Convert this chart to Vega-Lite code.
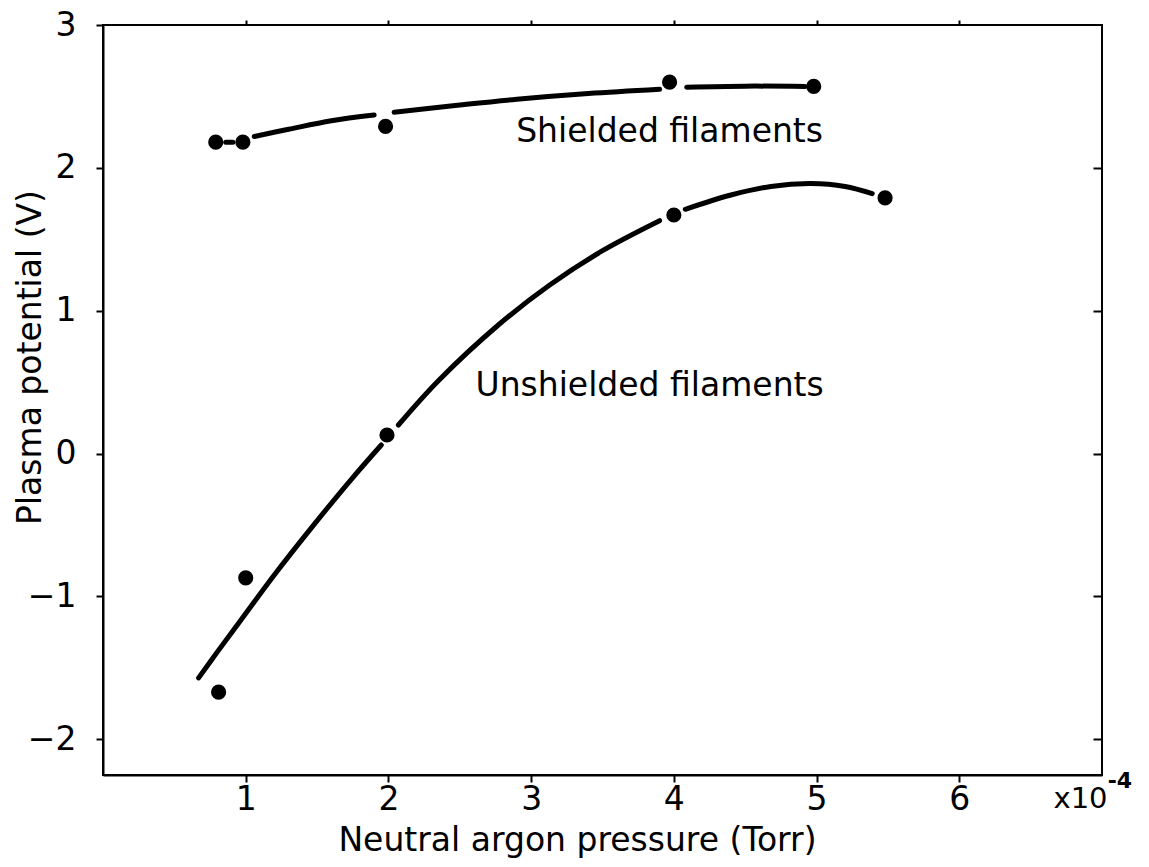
{
  "$schema": "https://vega.github.io/schema/vega-lite/v6.json",
  "autosize": {"type": "none"},
  "width": 999,
  "height": 750,
  "padding": {"left": 103, "top": 25, "right": 47, "bottom": 92},
  "background": "white",
  "config": {
    "view": {"stroke": "black", "strokeWidth": 2},
    "axis": {
      "grid": false,
      "domainColor": "black",
      "domainWidth": 2,
      "tickColor": "black",
      "tickWidth": 2,
      "tickSize": 7,
      "labelFont": "DejaVu Sans",
      "labelColor": "black",
      "labelFontSize": 33,
      "titleFont": "DejaVu Sans",
      "titleColor": "black",
      "titleFontSize": 33,
      "titleFontWeight": "normal"
    },
    "text": {"font": "DejaVu Sans", "color": "black"}
  },
  "datasets": {
    "curves": [
      {"series": "Shielded filaments", "seg": "s0", "p": 0.86, "v": 2.18},
      {"series": "Shielded filaments", "seg": "s0", "p": 0.91, "v": 2.18},
      {"series": "Shielded filaments", "seg": "s1", "p": 1.06, "v": 2.22},
      {"series": "Shielded filaments", "seg": "s1", "p": 1.3, "v": 2.27},
      {"series": "Shielded filaments", "seg": "s1", "p": 1.6, "v": 2.33},
      {"series": "Shielded filaments", "seg": "s1", "p": 1.9, "v": 2.37},
      {"series": "Shielded filaments", "seg": "s2", "p": 2.04, "v": 2.39},
      {"series": "Shielded filaments", "seg": "s2", "p": 2.5, "v": 2.44},
      {"series": "Shielded filaments", "seg": "s2", "p": 2.9, "v": 2.48},
      {"series": "Shielded filaments", "seg": "s2", "p": 3.4, "v": 2.52},
      {"series": "Shielded filaments", "seg": "s2", "p": 3.9, "v": 2.55},
      {"series": "Shielded filaments", "seg": "s3", "p": 4.09, "v": 2.565},
      {"series": "Shielded filaments", "seg": "s3", "p": 4.5, "v": 2.572},
      {"series": "Shielded filaments", "seg": "s3", "p": 4.92, "v": 2.57},
      {"series": "Unshielded filaments", "seg": "u0", "p": 0.67, "v": -1.57},
      {"series": "Unshielded filaments", "seg": "u0", "p": 0.8, "v": -1.39},
      {"series": "Unshielded filaments", "seg": "u0", "p": 1.0, "v": -1.12},
      {"series": "Unshielded filaments", "seg": "u0", "p": 1.2, "v": -0.85},
      {"series": "Unshielded filaments", "seg": "u0", "p": 1.46, "v": -0.52},
      {"series": "Unshielded filaments", "seg": "u0", "p": 1.74, "v": -0.18},
      {"series": "Unshielded filaments", "seg": "u0", "p": 1.95, "v": 0.06},
      {"series": "Unshielded filaments", "seg": "u1", "p": 2.07, "v": 0.2},
      {"series": "Unshielded filaments", "seg": "u1", "p": 2.35, "v": 0.51},
      {"series": "Unshielded filaments", "seg": "u1", "p": 2.77, "v": 0.9},
      {"series": "Unshielded filaments", "seg": "u1", "p": 3.13, "v": 1.18},
      {"series": "Unshielded filaments", "seg": "u1", "p": 3.5, "v": 1.42},
      {"series": "Unshielded filaments", "seg": "u1", "p": 3.9, "v": 1.63},
      {"series": "Unshielded filaments", "seg": "u2", "p": 4.08, "v": 1.71},
      {"series": "Unshielded filaments", "seg": "u2", "p": 4.4, "v": 1.81},
      {"series": "Unshielded filaments", "seg": "u2", "p": 4.68, "v": 1.87},
      {"series": "Unshielded filaments", "seg": "u2", "p": 4.96, "v": 1.89},
      {"series": "Unshielded filaments", "seg": "u2", "p": 5.2, "v": 1.87},
      {"series": "Unshielded filaments", "seg": "u2", "p": 5.39, "v": 1.82}
    ],
    "points": [
      {"series": "Shielded filaments", "p": 0.79, "v": 2.18},
      {"series": "Shielded filaments", "p": 0.98, "v": 2.18},
      {"series": "Shielded filaments", "p": 1.98, "v": 2.29},
      {"series": "Shielded filaments", "p": 3.97, "v": 2.6},
      {"series": "Shielded filaments", "p": 4.98, "v": 2.57},
      {"series": "Unshielded filaments", "p": 0.81, "v": -1.67},
      {"series": "Unshielded filaments", "p": 1.0, "v": -0.87},
      {"series": "Unshielded filaments", "p": 1.99, "v": 0.13},
      {"series": "Unshielded filaments", "p": 4.0, "v": 1.67},
      {"series": "Unshielded filaments", "p": 5.48, "v": 1.79}
    ],
    "labels": [
      {"p": 3.97, "v": 2.18, "t": "Shielded filaments"},
      {"p": 3.83, "v": 0.4, "t": "Unshielded  filaments"}
    ]
  },
  "resolve": {"axis": {"x": "independent", "y": "independent"}},
  "layer": [
    {
      "data": {"name": "curves"},
      "mark": {"type": "line", "color": "black", "strokeWidth": 5, "interpolate": "catmull-rom", "strokeCap": "round"},
      "encoding": {
        "x": {
          "field": "p", "type": "quantitative",
          "scale": {"domain": [0, 7], "nice": false, "zero": false},
          "axis": {
            "values": [1, 2, 3, 4, 5, 6],
            "title": "Neutral argon pressure (Torr)",
            "labelPadding": 1,
            "titleX": 474,
            "titleY": 75,
            "titleBaseline": "alphabetic",
            "titleAlign": "center"
          }
        },
        "y": {
          "field": "v", "type": "quantitative",
          "scale": {"domain": [-2.25, 3], "nice": false, "zero": false},
          "axis": {
            "values": [-2, -1, 0, 1, 2, 3],
            "title": "Plasma potential (V)",
            "labelPadding": 20,
            "titleX": -63,
            "titleY": 332,
            "titleAngle": -90,
            "titleBaseline": "alphabetic",
            "titleAlign": "center"
          }
        },
        "detail": {"field": "seg"}
      }
    },
    {
      "data": {"name": "points"},
      "mark": {"type": "point", "filled": true, "color": "black", "opacity": 1, "size": 230},
      "encoding": {
        "x": {"field": "p", "type": "quantitative", "axis": null},
        "y": {"field": "v", "type": "quantitative", "axis": null}
      }
    },
    {
      "data": {"name": "labels"},
      "mark": {"type": "text", "fontSize": 33, "align": "center", "baseline": "alphabetic"},
      "encoding": {
        "x": {"field": "p", "type": "quantitative", "axis": null},
        "y": {"field": "v", "type": "quantitative", "axis": null},
        "text": {"field": "t"}
      }
    },
    {
      "data": {"values": [{"p": 6.66, "v": -2.48, "t": "x10"}]},
      "mark": {"type": "text", "fontSize": 29, "align": "left", "baseline": "alphabetic"},
      "encoding": {
        "x": {"field": "p", "type": "quantitative", "axis": null},
        "y": {"field": "v", "type": "quantitative", "axis": null},
        "text": {"field": "t"}
      }
    },
    {
      "data": {"values": [{"p": 7.04, "v": -2.34, "t": "-4"}]},
      "mark": {"type": "text", "fontSize": 22, "align": "left", "baseline": "alphabetic", "fontWeight": "bold"},
      "encoding": {
        "x": {"field": "p", "type": "quantitative", "axis": null},
        "y": {"field": "v", "type": "quantitative", "axis": null},
        "text": {"field": "t"}
      }
    },
    {
      "data": {"name": "points"},
      "mark": {"type": "point", "opacity": 0},
      "encoding": {
        "x": {"field": "p", "type": "quantitative", "axis": {"orient": "top", "values": [1, 2, 3, 4, 5, 6], "labels": false, "domain": false, "tickSize": 5, "tickOffset": 0, "title": null}},
        "y": {"field": "v", "type": "quantitative", "axis": {"orient": "right", "values": [-2, -1, 0, 1, 2], "labels": false, "domain": false, "tickSize": -9, "title": null}}
      }
    }
  ]
}
